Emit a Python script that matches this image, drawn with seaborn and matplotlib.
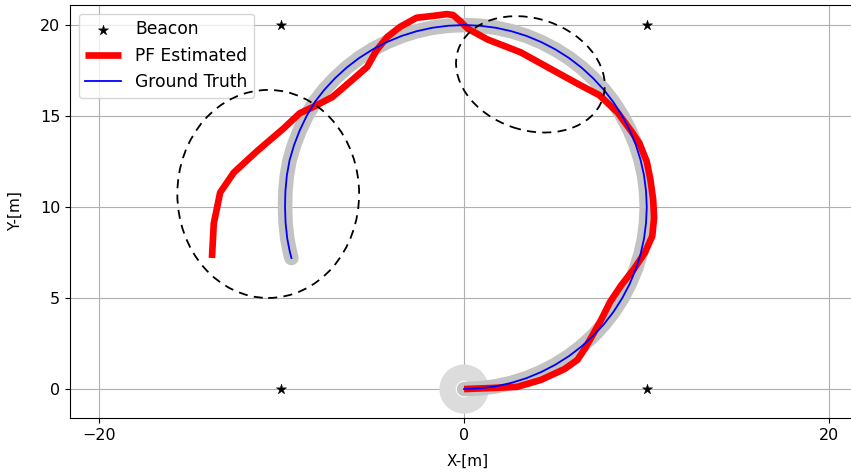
import numpy as np
import pandas as pd
import matplotlib
matplotlib.use("Agg")
import matplotlib.pyplot as plt
from matplotlib.patches import Ellipse, Circle
import seaborn as sns

# ---- data ----
beacon_x = [-10, 10, -10, 10]
beacon_y = [0, 0, 20, 20]

gt_x = [0.00, 0.87, 1.74, 2.59, 3.42, 4.23, 5.00, 5.74, 6.43, 7.07, 7.66, 8.19,
        8.66, 9.06, 9.40, 9.66, 9.85, 9.96, 10.00, 9.96, 9.85, 9.66, 9.40, 9.06,
        8.66, 8.19, 7.66, 7.07, 6.43, 5.74, 5.00, 4.23, 3.42, 2.59, 1.74, 0.87,
        0.00, -0.87, -1.74, -2.59, -3.42, -4.23, -5.00, -5.74, -6.43, -7.07,
        -7.66, -8.19, -8.62, -9.00, -9.30, -9.55, -9.70, -9.78, -9.80, -9.77,
        -9.68, -9.55, -9.45]
gt_y = [0.00, 0.04, 0.15, 0.34, 0.60, 0.94, 1.34, 1.81, 2.34, 2.93, 3.57, 4.26,
        5.00, 5.77, 6.58, 7.41, 8.26, 9.13, 10.00, 10.87, 11.74, 12.59, 13.42, 14.23,
        15.00, 15.74, 16.43, 17.07, 17.66, 18.19, 18.66, 19.06, 19.40, 19.66, 19.85, 19.96,
        20.00, 19.96, 19.85, 19.66, 19.40, 19.06, 18.66, 18.19, 17.66, 17.07,
        16.43, 15.74, 15.00, 14.20, 13.42, 12.58, 11.74, 10.87, 10.00, 9.13,
        8.28, 7.60, 7.20]

pf_x = [0.0, 1.3, 2.9, 4.2, 5.5, 6.2, 6.6, 7.0, 7.5, 8.0, 8.6, 9.3, 9.9, 10.3,
        10.4, 10.35, 10.2, 10.0, 9.6, 9.2, 8.4, 7.4, 6.35, 4.9, 3.1, 1.3, 0.2,
        -0.2, -0.6, -0.95, -1.7, -2.6, -3.5, -4.2, -4.8, -5.3, -6.1, -7.2,
        -8.15, -9.0, -9.9, -11.3, -12.6, -13.35, -13.7, -13.8]
pf_y = [0.0, 0.05, 0.12, 0.5, 1.1, 1.6, 2.2, 2.9, 3.8, 4.8, 5.7, 6.6, 7.5, 8.4,
        9.4, 10.4, 11.5, 12.5, 13.5, 14.1, 15.2, 16.15, 16.7, 17.5, 18.5, 19.2,
        19.8, 20.2, 20.55, 20.6, 20.5, 20.4, 19.9, 19.35, 18.6, 17.7, 17.0, 16.05,
        15.55, 15.15, 14.3, 13.1, 11.9, 10.8, 9.1, 7.2]

# covariance ellipses: centre x, centre y, width, height, angle
ell_cx = [-10.72, 3.63]
ell_cy = [10.72, 17.29]
ell_w = [9.95, 8.35]
ell_h = [11.43, 6.12]
ell_ang = [0, -19]

x_ticks = [-20, 0, 20]
y_ticks = [0, 5, 10, 15, 20]

gt = pd.DataFrame({"x": gt_x, "y": gt_y})
pf = pd.DataFrame({"x": pf_x, "y": pf_y})
bc = pd.DataFrame({"x": beacon_x, "y": beacon_y})

FS = 11.5
fig = plt.figure(figsize=(8.51, 4.72), dpi=100)
ax = fig.add_axes([70 / 851, 54 / 472, 796 / 851, 413 / 472])

# initial particle cloud
ax.add_patch(Circle((0, 0), 1.35, facecolor="#dcdcdc", edgecolor="none", zorder=1))
ax.add_patch(Circle((0, 0), 0.4, facecolor="none", edgecolor="white", lw=1.5, zorder=1.1))

# particle band
sns.lineplot(data=gt, x="x", y="y", sort=False, estimator=None, ax=ax,
             color="#c3c3c3", lw=10.5, legend=False, zorder=2,
             solid_capstyle="round", solid_joinstyle="round")

sns.scatterplot(data=bc, x="x", y="y", marker="*", color="black", s=60,
                edgecolor="black", linewidth=0.3, ax=ax, label="Beacon", zorder=5)
sns.lineplot(data=pf, x="x", y="y", sort=False, estimator=None, ax=ax,
             color="red", lw=4.8, label="PF Estimated", zorder=3,
             solid_capstyle="butt", solid_joinstyle="round")
sns.lineplot(data=gt, x="x", y="y", sort=False, estimator=None, ax=ax,
             color="blue", lw=1.3, label="Ground Truth", zorder=4)

for cx, cy, w, h, a in zip(ell_cx, ell_cy, ell_w, ell_h, ell_ang):
    ax.add_patch(Ellipse((cx, cy), w, h, angle=a, facecolor="none",
                         edgecolor="black", lw=1.3, ls=(0, (5, 3.5)), zorder=6))

ax.set_xlim(-21.57, 22)
ax.set_ylim(-1.59, 21.1)
ax.set_xticks(x_ticks)
ax.set_yticks(y_ticks)
ax.tick_params(labelsize=FS)
ax.grid(True, color="#b0b0b0", lw=0.8)
ax.set_axisbelow(True)
ax.set_xlabel("X-[m]", fontsize=FS - 0.5, labelpad=8)
ax.set_ylabel("Y-[m]", fontsize=FS - 0.5, labelpad=12)

leg = ax.legend(loc="upper left", fontsize=12.3, borderaxespad=0.5,
                handlelength=2.1)

fig.savefig("out.png", dpi=100)
